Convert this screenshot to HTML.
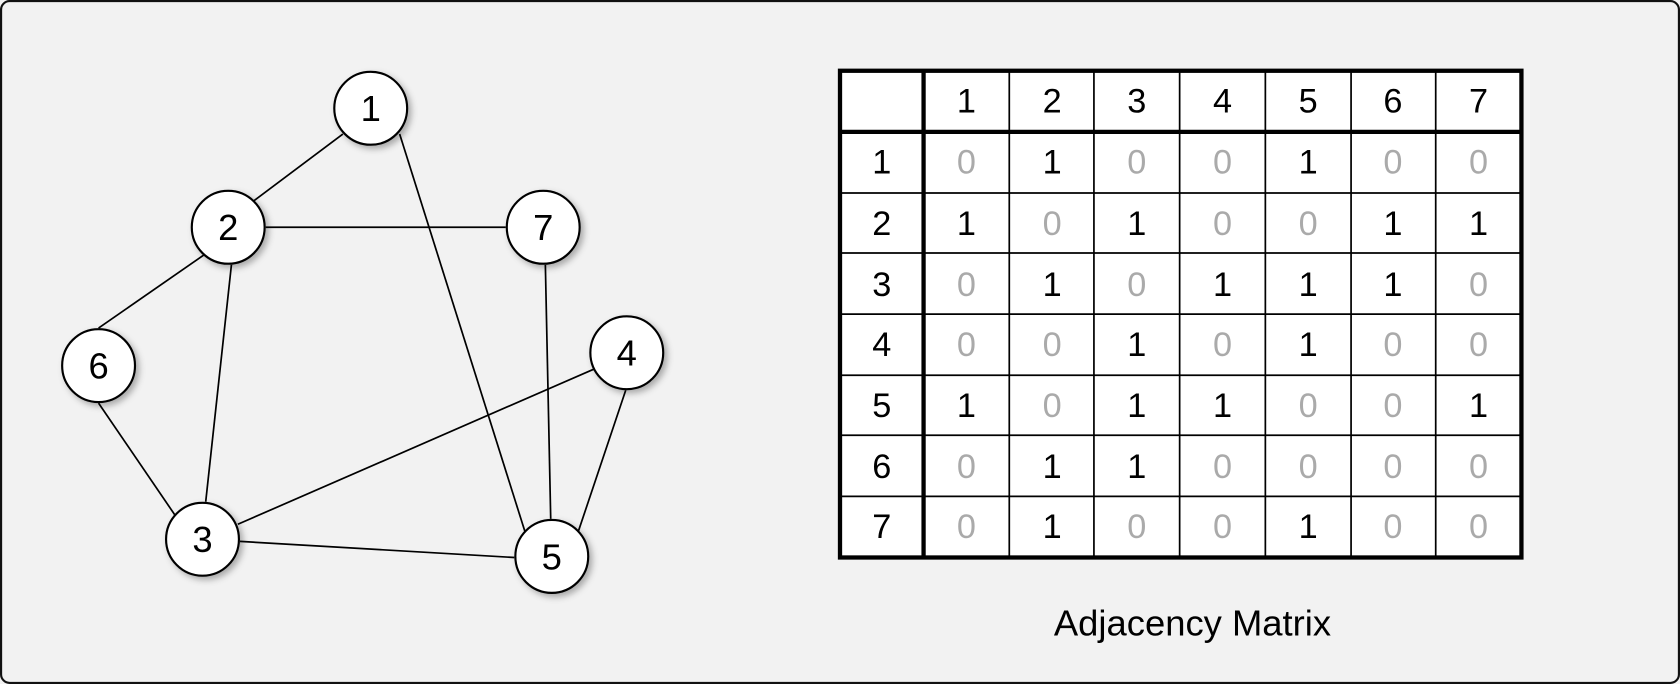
<!DOCTYPE html>
<html><head><meta charset="utf-8"><style>
html,body{margin:0;padding:0;background:#f2f2f2}
svg{display:block}
</style></head><body>
<svg width="1680" height="684" viewBox="0 0 1568 638" preserveAspectRatio="none" xmlns="http://www.w3.org/2000/svg" font-family="Liberation Sans, DejaVu Sans, sans-serif">
<defs><filter id="sh" x="-30%" y="-30%" width="160%" height="160%"><feDropShadow dx="3" dy="3" stdDeviation="3" flood-color="#000" flood-opacity="0.3"/></filter></defs>
<rect x="1" y="1" width="1566" height="636" rx="8" fill="#f2f2f2" stroke="#111" stroke-width="2"/>
<g stroke="#000" stroke-width="1.6">
<line x1="320" y1="125" x2="236" y2="188"/>
<line x1="373" y1="125" x2="490" y2="496"/>
<line x1="248" y1="212" x2="472" y2="212"/>
<line x1="190" y1="238" x2="92" y2="306"/>
<line x1="216" y1="247" x2="192" y2="468"/>
<line x1="92" y1="376" x2="163" y2="480"/>
<line x1="509" y1="247" x2="514" y2="484"/>
<line x1="555" y1="344" x2="222" y2="489"/>
<line x1="584" y1="364" x2="540" y2="495"/>
<line x1="224" y1="505" x2="480" y2="520"/>
</g>
<g fill="#fff" stroke="#000" stroke-width="2" filter="url(#sh)">
<circle cx="346" cy="101" r="34"/><circle cx="213" cy="212" r="34"/><circle cx="507" cy="212" r="34"/>
<circle cx="92" cy="341" r="34"/><circle cx="585" cy="329" r="34"/><circle cx="189" cy="503" r="34"/><circle cx="515" cy="519" r="34"/>
</g>
<g font-size="34" text-anchor="middle" fill="#000">
<text x="346" y="113">1</text><text x="213" y="224">2</text><text x="507" y="224">7</text>
<text x="92" y="353">6</text><text x="585" y="341">4</text><text x="189" y="515">3</text><text x="515" y="531">5</text>
</g>
<rect x="784" y="66" width="636" height="454" fill="#fff"/>
<g stroke="#000" stroke-width="1.6">
<line x1="942" y1="66" x2="942" y2="520"/><line x1="1021" y1="66" x2="1021" y2="520"/><line x1="1101" y1="66" x2="1101" y2="520"/>
<line x1="1181" y1="66" x2="1181" y2="520"/><line x1="1261" y1="66" x2="1261" y2="520"/><line x1="1340" y1="66" x2="1340" y2="520"/>
<line x1="784" y1="180" x2="1420" y2="180"/><line x1="784" y1="236" x2="1420" y2="236"/><line x1="784" y1="293" x2="1420" y2="293"/>
<line x1="784" y1="350" x2="1420" y2="350"/><line x1="784" y1="406" x2="1420" y2="406"/><line x1="784" y1="463" x2="1420" y2="463"/>
</g>
<g stroke="#000" stroke-width="4" fill="none">
<rect x="784" y="66" width="636" height="454"/>
<line x1="862" y1="66" x2="862" y2="520"/><line x1="784" y1="123" x2="1420" y2="123"/>
</g>
<g font-size="32" text-anchor="middle" fill="#000">
<text x="902" y="105">1</text><text x="982" y="105">2</text><text x="1061" y="105">3</text><text x="1141" y="105">4</text><text x="1221" y="105">5</text><text x="1300" y="105">6</text><text x="1380" y="105">7</text>
<text x="823" y="162">1</text><text x="823" y="219">2</text><text x="823" y="276">3</text><text x="823" y="332">4</text><text x="823" y="389">5</text><text x="823" y="446">6</text><text x="823" y="502">7</text>
</g>
<g font-size="32" text-anchor="middle">
<text x="902" y="162" fill="#aaa">0</text><text x="982" y="162">1</text><text x="1061" y="162" fill="#aaa">0</text><text x="1141" y="162" fill="#aaa">0</text><text x="1221" y="162">1</text><text x="1300" y="162" fill="#aaa">0</text><text x="1380" y="162" fill="#aaa">0</text>
<text x="902" y="219">1</text><text x="982" y="219" fill="#aaa">0</text><text x="1061" y="219">1</text><text x="1141" y="219" fill="#aaa">0</text><text x="1221" y="219" fill="#aaa">0</text><text x="1300" y="219">1</text><text x="1380" y="219">1</text>
<text x="902" y="276" fill="#aaa">0</text><text x="982" y="276">1</text><text x="1061" y="276" fill="#aaa">0</text><text x="1141" y="276">1</text><text x="1221" y="276">1</text><text x="1300" y="276">1</text><text x="1380" y="276" fill="#aaa">0</text>
<text x="902" y="332" fill="#aaa">0</text><text x="982" y="332" fill="#aaa">0</text><text x="1061" y="332">1</text><text x="1141" y="332" fill="#aaa">0</text><text x="1221" y="332">1</text><text x="1300" y="332" fill="#aaa">0</text><text x="1380" y="332" fill="#aaa">0</text>
<text x="902" y="389">1</text><text x="982" y="389" fill="#aaa">0</text><text x="1061" y="389">1</text><text x="1141" y="389">1</text><text x="1221" y="389" fill="#aaa">0</text><text x="1300" y="389" fill="#aaa">0</text><text x="1380" y="389">1</text>
<text x="902" y="446" fill="#aaa">0</text><text x="982" y="446">1</text><text x="1061" y="446">1</text><text x="1141" y="446" fill="#aaa">0</text><text x="1221" y="446" fill="#aaa">0</text><text x="1300" y="446" fill="#aaa">0</text><text x="1380" y="446" fill="#aaa">0</text>
<text x="902" y="502" fill="#aaa">0</text><text x="982" y="502">1</text><text x="1061" y="502" fill="#aaa">0</text><text x="1141" y="502" fill="#aaa">0</text><text x="1221" y="502">1</text><text x="1300" y="502" fill="#aaa">0</text><text x="1380" y="502" fill="#aaa">0</text>
</g>
<text x="1113" y="593" font-size="34" text-anchor="middle" fill="#000">Adjacency Matrix</text>
</svg>
</body></html>
